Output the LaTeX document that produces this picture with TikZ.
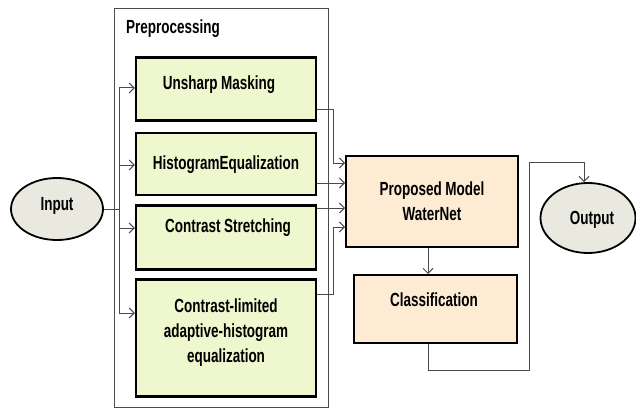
\documentclass[tikz,border=0pt]{standalone}
\usepackage{fontspec}
\setmainfont{Liberation Sans}[FakeStretch=0.71]
\usetikzlibrary{arrows.meta,shapes.geometric}
\definecolor{greenfill}{HTML}{EEF7CD}
\definecolor{peach}{HTML}{FDEBD4}
\definecolor{ellfill}{HTML}{E9E9E0}
\definecolor{linegray}{HTML}{4A4A4A}
\tikzset{
  txt/.style={font=\fontsize{19}{25}\selectfont\bfseries, inner sep=0pt, align=center},
  greenbox/.style={draw=black, line width=2.2pt, fill=greenfill, minimum width=180pt, inner sep=0pt},
  peachbox/.style={draw=black, line width=2pt, fill=peach, inner sep=0pt},
  ell/.style={ellipse, draw=black, line width=1.8pt, fill=ellfill, inner sep=0pt},
  conn/.style={draw=linegray, line width=1pt},
  arr/.style={conn, -{Straight Barb[length=5pt,width=10pt,line width=1pt]}},
}
\begin{document}
\begin{tikzpicture}[x=1pt,y=-1pt]
\useasboundingbox (0,0) rectangle (636,409);
% preprocessing frame
\node[draw=linegray, line width=1pt, minimum width=214pt, minimum height=399pt, inner sep=0pt] (pre) at (221.5,208) {};
\node[txt, anchor=west] (pretxt) at (126,29) {Preprocessing};
% green boxes
\node[greenbox, minimum height=63pt] (b1) at (226,89) {};
\node[greenbox, minimum height=62pt] (b2) at (226,164) {};
\node[greenbox, minimum height=64pt] (b3) at (226,237.5) {};
\node[greenbox, minimum height=117pt] (b4) at (226,338) {};
\node[txt] (t1) at (219,85) {Unsharp Masking};
\node[txt] (t2) at (226,165) {HistogramEqualization};
\node[txt] (t3) at (228,228) {Contrast Stretching};
\node[txt] (t4) at (226,333) {Contrast-limited\\adaptive-histogram\\equalization};
% ellipses
\node[ell, minimum width=92pt, minimum height=62pt] (in) at (57,209) {};
\node[txt] (intxt) at (57,206) {Input};
\node[ell, minimum width=95pt, minimum height=70pt] (out) at (588,218) {};
\node[txt] (outtxt) at (592,220) {Output};
% peach boxes
\node[peachbox, minimum width=172pt, minimum height=91pt] (wn) at (432,201.5) {};
\node[txt] (wntxt) at (432,201) {Proposed Model\\WaterNet};
\node[peachbox, minimum width=163pt, minimum height=68pt] (cls) at (435.5,309) {};
\node[txt] (clstxt) at (434,300) {Classification};
% input fan-out
\coordinate (tr) at (119,209);
\draw[conn] (in.east |- tr) -- (tr);
\draw[arr] (tr) |- (b1.west |- {(0,88)});
\draw[arr] (tr) |- (b2.west |- {(0,165)});
\draw[arr] (tr) |- (b3.west |- {(0,228)});
\draw[arr] (tr) |- (b4.west |- {(0,313)});
% into WaterNet
\draw[arr] (b1.east |- {(0,109)}) -- (333,109) |- (wn.west |- {(0,163)});
\draw[arr] (b2.east |- {(0,183)}) -- (wn.west |- {(0,183)});
\draw[arr] (b3.east |- {(0,208)}) -- (wn.west |- {(0,208)});
\draw[arr] (b4.east |- {(0,294)}) -- (333,294) |- (wn.west |- {(0,227)});
% WaterNet -> Classification
\draw[arr] (wn.south -| {(428,0)}) -- (cls.north -| {(428,0)});
% Classification -> Output
\draw[arr] (cls.south -| {(428,0)}) -- (428,370) -- (529,370) -- (529,162) -- (584,162) -- (out.north -| {(584,0)});
\end{tikzpicture}
\end{document}
